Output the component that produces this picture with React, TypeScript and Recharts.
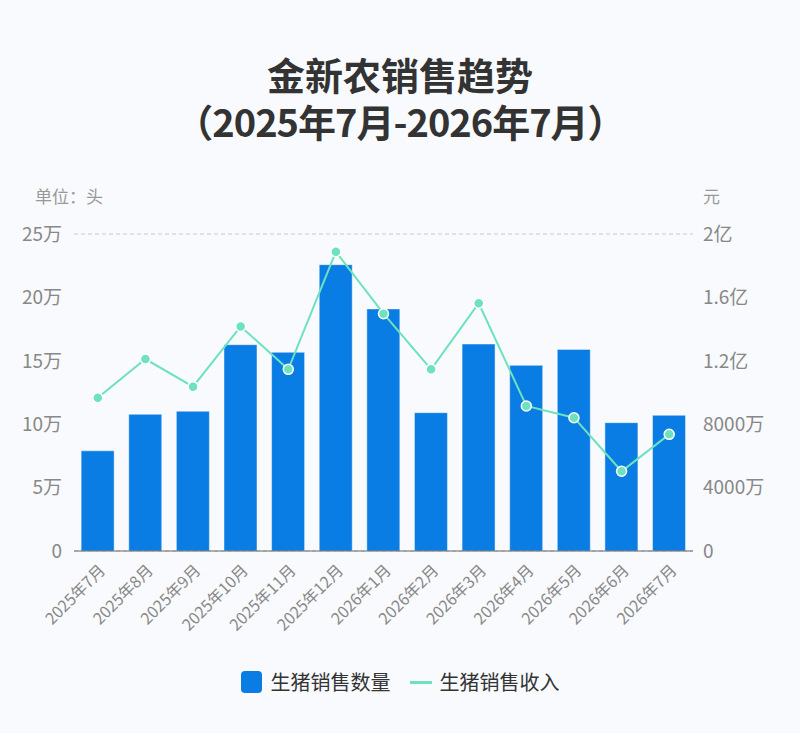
import React from "react";
import {
  ComposedChart,
  Bar,
  Line,
  XAxis,
  YAxis,
  CartesianGrid,
} from "recharts";

const months = [
  "2025年7月", "2025年8月", "2025年9月", "2025年10月", "2025年11月", "2025年12月",
  "2026年1月", "2026年2月", "2026年3月", "2026年4月", "2026年5月", "2026年6月", "2026年7月",
];
// 生猪销售数量（头）
const volume = [79000, 107800, 110200, 162700, 156700, 225800, 190900, 109100, 163200, 146400, 159000, 101200, 107000];
// 生猪销售收入（元）
const revenue = [96700000, 121100000, 103700000, 141700000, 114600000, 188800000, 149700000, 114600000, 156300000, 91500000, 84100000, 50300000, 73600000];

const leftTicks = [0, 50000, 100000, 150000, 200000, 250000];
const rightTicks = [0, 40000000, 80000000, 120000000, 160000000, 200000000];

const data = months.map((month, i) => ({ month, volume: volume[i], revenue: revenue[i] }));

const FONT = "'Noto Sans CJK SC', 'Noto Sans', sans-serif";
const BAR = "#097de3";
const LINE = "#6de2bd";

const fmtLeft = (v: number) => (v === 0 ? "0" : `${v / 10000}万`);
const fmtRight = (v: number) =>
  v === 0 ? "0" : v < 100000000 ? `${v / 10000}万` : `${v / 100000000}亿`;

function MonthTick(props: any) {
  const { x, y, payload } = props;
  return (
    <g transform={`translate(${x + 5},${y + 9})`}>
      <text
        transform="rotate(-45)"
        textAnchor="end"
        fill="#888"
        fontSize={16}
        fontFamily={FONT}
        dy={5}
      >
        {payload.value}
      </text>
    </g>
  );
}

export default function App() {
  return (
    <div
      style={{
        position: "fixed",
        left: 0,
        top: 0,
        width: 800,
        height: 733,
        background: "#f8fafd",
        fontFamily: FONT,
        overflow: "hidden",
      }}
    >
      <div
        style={{
          position: "absolute",
          top: 50,
          left: 0,
          width: 800,
          textAlign: "center",
          fontSize: 38,
          fontWeight: 700,
          lineHeight: "47px",
          color: "#333",
        }}
      >
        <div>金新农销售趋势</div>
        <div style={{ letterSpacing: -1 }}>（2025年7月-2026年7月）</div>
      </div>

      <div style={{ position: "absolute", left: 35, top: 183, fontSize: 17, color: "#999" }}>
        单位：头
      </div>
      <div style={{ position: "absolute", left: 703, top: 183, fontSize: 17, color: "#999" }}>
        元
      </div>

      <div style={{ position: "absolute", left: 0, top: 0 }}>
        <ComposedChart
          width={800}
          height={733}
          data={data}
          margin={{ top: 234, right: 0, bottom: 122, left: 0 }}
          barCategoryGap="15%"
        >
          <CartesianGrid vertical={false} stroke="#c8c8c8" strokeDasharray="4 3" />
          <XAxis
            dataKey="month"
            height={60}
            interval={0}
            tickLine={false}
            axisLine={{ stroke: "#666" }}
            tick={<MonthTick />}
          />
          <YAxis
            yAxisId="left"
            width={74}
            domain={[0, 250000]}
            ticks={leftTicks}
            tickFormatter={fmtLeft}
            axisLine={false}
            tickLine={false}
            tickSize={0}
            tickMargin={12}
            tick={{ fill: "#888", fontSize: 19, fontFamily: FONT }}
          />
          <YAxis
            yAxisId="right"
            orientation="right"
            width={107}
            domain={[0, 200000000]}
            ticks={rightTicks}
            tickFormatter={fmtRight}
            axisLine={false}
            tickLine={false}
            tickSize={0}
            tickMargin={10}
            tick={{ fill: "#888", fontSize: 19, fontFamily: FONT, textAnchor: "start" }}
          />
          <Bar
            yAxisId="left"
            dataKey="volume"
            fill={BAR}
            stroke="rgba(255,255,255,0.45)"
            strokeWidth={1}
            isAnimationActive={false}
          />
          <Line
            yAxisId="right"
            dataKey="revenue"
            type="linear"
            stroke={LINE}
            strokeWidth={2}
            dot={{ r: 5, fill: LINE, stroke: "#fff", strokeWidth: 1.5 }}
            isAnimationActive={false}
          />
        </ComposedChart>
      </div>

      <div
        style={{
          position: "absolute",
          top: 668,
          left: 0,
          width: 800,
          display: "flex",
          justifyContent: "center",
          alignItems: "center",
          fontSize: 20,
          color: "#333",
          lineHeight: "28px",
        }}
      >
        <span
          style={{
            display: "inline-block",
            width: 21,
            height: 22,
            borderRadius: 4,
            background: BAR,
            marginRight: 9,
          }}
        />
        <span>生猪销售数量</span>
        <span
          style={{
            display: "inline-block",
            width: 22,
            height: 3,
            background: LINE,
            marginLeft: 19,
            marginRight: 8,
          }}
        />
        <span>生猪销售收入</span>
      </div>
    </div>
  );
}
